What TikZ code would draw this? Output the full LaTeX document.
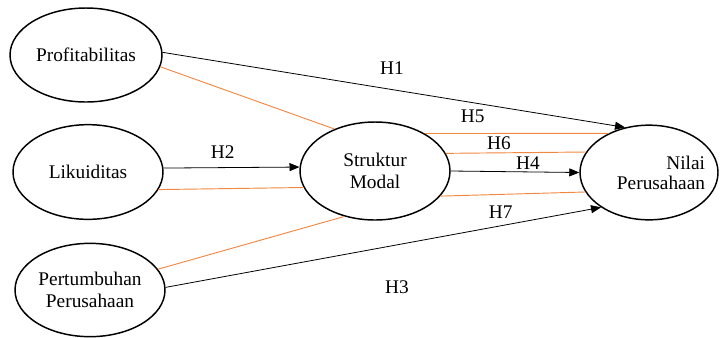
\documentclass[tikz,border=0pt]{standalone}
\usepackage{fontspec}
\setmainfont{Liberation Serif}
\usepackage{xcolor}
\usetikzlibrary{arrows.meta,shapes.geometric}
\definecolor{jingga}{RGB}{242,135,65}
\tikzset{
    >={Triangle[length=7.5pt,width=6pt]},
    variabel/.style={
        ellipse,
        draw, line width=1.1pt,
        inner sep=0pt,
        align=center
    },
    line/.style={draw, line width=0.6pt, ->},
    mediasi/.style={draw=jingga, line width=0.7pt},
    hipotesis/.style={inner sep=0pt},
    font={\fontsize{14.5pt}{17pt}\selectfont},
}

\begin{document}
\begin{tikzpicture}[x=0.75pt, y=-0.75pt]
\useasboundingbox (0,0) rectangle (720,337);

% variabel
\node [variabel, minimum width=114pt, minimum height=70.5pt] (prof) at (86,55) {Profitabilitas};
\node [variabel, minimum width=112.5pt, minimum height=71pt] (lik) at (88,172) {Likuiditas};
\node [variabel, minimum width=112.5pt, minimum height=70pt] (pert) at (90,290) {Pertumbuhan\\Perusahaan};
\node [variabel, minimum width=112.5pt, minimum height=73.5pt] (strm) at (375,171) {Struktur\\Modal};
\node [variabel, minimum width=103.5pt, minimum height=71pt,
       label={[align=right, xshift=9pt, font={\fontsize{14.5pt}{15pt}\selectfont}]center:Nilai\\Perusahaan}] (nil) at (649,172.5) {};

% garis mediasi
\foreach \a/\i/\b/\j in {prof/-9/strm/134.3, lik/-14.6/strm/193.6, pert/17/strm/236.3,
                         strm/37/nil/136.4, strm/14.5/nil/162.8, strm/-21.2/nil/197.2}
  \draw [mediasi] (\a.\i) -- (\b.\j);

% pengaruh langsung
\foreach \a/\i/\b/\j in {prof/2/nil/118.3, lik/3/strm/177, pert/2.5/nil/216.9, strm/0/nil/180}
  \draw [line] (\a.\i) -- (\b.\j);

% label hipotesis
\foreach \l/\x/\y in {H1/392/68, H2/222.7/151.7, H3/397/286.7, H4/528/162.7,
                      H5/472.7/116, H6/499/142.7, H7/500.7/211.7}
  \node [hipotesis] (hip-\l) at (\x,\y) {\l};

\end{tikzpicture}
\end{document}
